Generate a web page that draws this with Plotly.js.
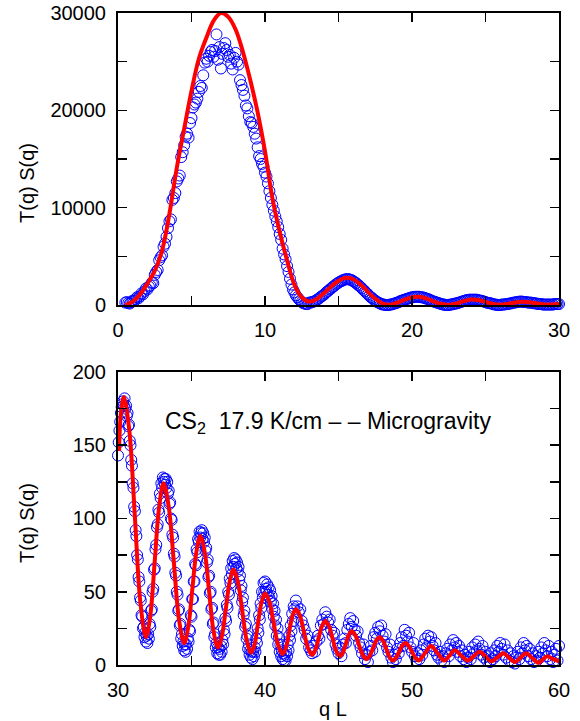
<!DOCTYPE html>
<html>
<head>
<meta charset="utf-8">
<script src="https://cdn.plot.ly/plotly-3.0.1.min.js"></script>
<style>html,body{margin:0;padding:0;background:#fff;}#chart{width:580px;height:721px;}</style>
</head>
<body>
<div id="chart"></div>
<script>
// ---------- Top panel: measured data (q L, T(q)S(q)) ----------
const topX = [
0.5,0.6,0.7,0.8,0.9,1.0,
1.1,1.2,1.3,1.4,1.5,1.6,1.7,1.8,1.9,2.0,
2.1,2.2,2.3,2.4,2.5,2.6,2.7,2.8,2.9,3.0,
3.1,3.2,3.3,3.4,3.5,3.6,3.7,3.8,3.9,4.0,
4.1,4.2,4.3,4.4,4.5,4.6,4.7,4.8,4.9,5.0,
5.1,5.2,5.3,5.4,5.5,5.6,5.7,5.8,5.9,6.0,
6.1,6.2,6.3,6.4,6.5,6.6,6.7,6.8,6.9,7.0,
7.1,7.2,7.3,7.4,7.5,7.6,7.7,7.8,7.9,8.0,
8.1,8.2,8.3,8.4,8.5,8.6,8.7,8.8,8.9,9.0,
9.1,9.2,9.3,9.4,9.5,9.6,9.7,9.8,9.9,10.0,
10.1,10.2,10.3,10.4,10.5,10.6,10.7,10.8,10.9,11.0,
11.1,11.2,11.3,11.4,11.5,11.6,11.7,11.8,11.9,12.0,
12.1,12.2,12.3,12.4,12.5,12.6,12.7,12.8,12.9,13.0,
13.1,13.2,13.3,13.4,13.5,13.6,13.7,13.8,13.9,14.0,
14.1,14.2,14.3,14.4,14.5,14.6,14.7,14.8,14.9,15.0,
15.1,15.2,15.3,15.4,15.5,15.6,15.7,15.8,15.9,16.0,
16.1,16.2,16.3,16.4,16.5,16.6,16.7,16.8,16.9,17.0,
17.1,17.2,17.3,17.4,17.5,17.6,17.7,17.8,17.9,18.0,
18.1,18.2,18.3,18.4,18.5,18.6,18.7,18.8,18.9,19.0,
19.1,19.2,19.3,19.4,19.5,19.6,19.7,19.8,19.9,20.0,
20.1,20.2,20.3,20.4,20.5,20.6,20.7,20.8,20.9,21.0,
21.1,21.2,21.3,21.4,21.5,21.6,21.7,21.8,21.9,22.0,
22.1,22.2,22.3,22.4,22.5,22.6,22.7,22.8,22.9,23.0,
23.1,23.2,23.3,23.4,23.5,23.6,23.7,23.8,23.9,24.0,
24.1,24.2,24.3,24.4,24.5,24.6,24.7,24.8,24.9,25.0,
25.1,25.2,25.3,25.4,25.5,25.6,25.7,25.8,25.9,26.0,
26.1,26.2,26.3,26.4,26.5,26.6,26.7,26.8,26.9,27.0,
27.1,27.2,27.3,27.4,27.5,27.6,27.7,27.8,27.9,28.0,
28.1,28.2,28.3,28.4,28.5,28.6,28.7,28.8,28.9,29.0,
29.1,29.2,29.3,29.4,29.5,29.6,29.7,29.8,29.9,30.0
];
const topY = [
250,300,200,150,300,450,
400,600,800,700,900,1200,1100,1400,1700,1600,
1900,2000,2300,2250,3100,3400,3600,4600,4900,5100,
6000,6300,7000,7900,8600,8800,10800,11000,11500,12700,
13000,13300,15200,15700,16400,17300,17600,17200,18700,19200,
20300,20600,20800,21200,21900,22500,22300,23600,24900,25300,
25000,25600,26000,26200,25500,26100,27800,25200,26500,24300,
25800,26400,26900,26200,25500,25700,24800,24200,25400,25900,
25000,24700,23100,22600,22100,21500,20500,20200,19400,18800,
18700,18300,17600,17100,16200,15300,15000,14500,14200,13600,
13200,12500,11700,11000,10300,9700,9100,8600,8000,7300,
6700,5800,5200,4700,4000,3400,2700,2100,1600,1300,
1000,800,600,450,300,200,150,100,100,250,
250,300,350,400,500,600,700,850,950,1050,
1200,1350,1450,1600,1700,1850,1950,2100,2200,2300,
2400,2450,2550,2600,2650,2650,2650,2600,2550,2450,
2350,2250,2100,2000,1850,1700,1550,1400,1250,1100,
950,800,700,550,450,350,250,200,100,50,
50,0,0,0,50,50,100,150,200,250,
300,400,450,500,550,600,650,700,750,800,
800,850,850,850,850,800,800,750,700,650,
600,550,450,400,350,300,250,200,150,100,
50,50,0,0,0,50,50,100,150,150,
200,250,300,350,400,450,500,500,550,550,
550,550,550,550,500,450,450,400,350,300,
250,200,200,150,100,50,50,0,0,0,
50,50,50,100,100,150,150,200,250,250,
300,300,350,350,350,300,300,300,250,250,
250,200,200,150,150,100,100,100,50,50,
50,50,50,50,50,50,100,100,100,100
];
// ---------- Top panel: fitted curve ----------
const topFitX = [0.5,1.0,1.5,2.0,2.5,3.0,3.5,4.0,4.5,5.0,5.5,6.0,6.5,7.0,7.5,8.0,8.5,9.0,9.5,10.0,
10.5,11.0,11.5,12.0,12.5,13.0,13.5,14.0,14.5,15.0,15.5,16.0,16.5,17.0,17.5,18.0,18.5,19.0,19.5,20.0,
20.5,21.0,21.5,22.0,22.5,23.0,23.5,24.0,24.5,25.0,25.5,26.0,26.5,27.0,27.5,28.0,28.5,29.0,29.5,30.0];
const topFitY = [0,350,1100,2200,3500,5600,9400,14100,18100,22000,25300,27400,29200,30000,29600,28300,26000,23100,19800,15800,
11000,7500,4600,2100,800,350,600,1200,1900,2500,2800,2650,2100,1350,650,150,20,250,550,800,
850,650,350,100,10,150,400,570,520,320,100,20,100,270,340,280,150,60,50,100];

// ---------- Bottom panel: measured data ----------
const botX = [
30.00,30.05,30.10,30.15,30.20,30.25,30.30,30.35,30.40,30.45,30.50,30.55,30.60,30.65,30.70,30.75,30.80,30.85,30.90,30.95,
31.00,31.05,31.10,31.15,31.20,31.25,31.30,31.35,31.40,31.45,31.50,31.55,31.60,31.65,31.70,31.75,31.80,31.85,31.90,31.95,
32.00,32.05,32.10,32.15,32.20,32.25,32.30,32.35,32.40,32.45,32.50,32.55,32.60,32.65,32.70,32.75,32.80,32.85,32.90,32.95,
33.00,33.05,33.10,33.15,33.20,33.25,33.30,33.35,33.40,33.45,33.50,33.55,33.60,33.65,33.70,33.75,33.80,33.85,33.90,33.95,
34.00,34.05,34.10,34.15,34.20,34.25,34.30,34.35,34.40,34.45,34.50,34.55,34.60,34.65,34.70,34.75,34.80,34.85,34.90,34.95,
35.00,35.05,35.10,35.15,35.20,35.25,35.30,35.35,35.40,35.45,35.50,35.55,35.60,35.65,35.70,35.75,35.80,35.85,35.90,35.95,
36.00,36.05,36.10,36.15,36.20,36.25,36.30,36.35,36.40,36.45,36.50,36.55,36.60,36.65,36.70,36.75,36.80,36.85,36.90,36.95,
37.00,37.05,37.10,37.15,37.20,37.25,37.30,37.35,37.40,37.45,37.50,37.55,37.60,37.65,37.70,37.75,37.80,37.85,37.90,37.95,
38.00,38.05,38.10,38.15,38.20,38.25,38.30,38.35,38.40,38.45,38.50,38.55,38.60,38.65,38.70,38.75,38.80,38.85,38.90,38.95,
39.00,39.05,39.10,39.15,39.20,39.25,39.30,39.35,39.40,39.45,39.50,39.55,39.60,39.65,39.70,39.75,39.80,39.85,39.90,39.95,
40.00,40.05,40.10,40.15,40.20,40.25,40.30,40.35,40.40,40.45,40.50,40.55,40.60,40.65,40.70,40.75,40.80,40.85,40.90,40.95,
41.00,41.05,41.10,41.15,41.20,41.25,41.30,41.35,41.40,41.45,41.50,41.55,41.60,41.65,41.70,41.75,41.80,41.85,41.90,41.95,
42.0,42.1,42.2,42.3,42.4,42.5,42.6,42.7,42.8,42.9,
43.0,43.1,43.2,43.3,43.4,43.5,43.6,43.7,43.8,43.9,
44.0,44.1,44.2,44.3,44.4,44.5,44.6,44.7,44.8,44.9,
45.0,45.1,45.2,45.3,45.4,45.5,45.6,45.7,45.8,45.9,
46.0,46.1,46.2,46.3,46.4,46.5,46.6,46.7,46.8,46.9,
47.0,47.1,47.2,47.3,47.4,47.5,47.6,47.7,47.8,47.9,
48.0,48.1,48.2,48.3,48.4,48.5,48.6,48.7,48.8,48.9,
49.0,49.1,49.2,49.3,49.4,49.5,49.6,49.7,49.8,49.9,
50.0,50.1,50.2,50.3,50.4,50.5,50.6,50.7,50.8,50.9,
51.0,51.1,51.2,51.3,51.4,51.5,51.6,51.7,51.8,51.9,
52.0,52.1,52.2,52.3,52.4,52.5,52.6,52.7,52.8,52.9,
53.0,53.1,53.2,53.3,53.4,53.5,53.6,53.7,53.8,53.9,
54.0,54.1,54.2,54.3,54.4,54.5,54.6,54.7,54.8,54.9,
55.0,55.1,55.2,55.3,55.4,55.5,55.6,55.7,55.8,55.9,
56.0,56.1,56.2,56.3,56.4,56.5,56.6,56.7,56.8,56.9,
57.0,57.1,57.2,57.3,57.4,57.5,57.6,57.7,57.8,57.9,
58.0,58.1,58.2,58.3,58.4,58.5,58.6,58.7,58.8,58.9,
59.0,59.1,59.2,59.3,59.4,59.5,59.6,59.7,59.8,59.9,
60.0
];
const botY = [
143,152,160,166,172,176,178,180,177,182,175,177,170,172,163,164,153,150,140,136,
124,121,108,105,92,88,75,72,60,57,46,44,34,33,25,26,19,22,16,20,
15,21,18,28,26,37,38,50,52,65,66,79,82,94,96,106,104,117,114,124,
121,128,125,127,123,127,121,125,117,119,110,111,100,99,89,87,76,74,63,61,
50,48,37,38,27,28,18,21,13,16,10,14,9,14,11,18,16,24,23,34,
33,45,45,57,57,69,68,79,77,86,84,91,87,90,92,86,90,84,87,78,
80,70,72,60,61,49,50,38,39,28,29,19,21,12,15,8,12,7,11,7,
13,9,17,14,24,21,32,30,41,39,50,48,59,56,66,62,71,67,73,69,
72,66,70,64,67,58,61,51,54,43,46,34,37,26,28,18,20,11,14,7,
10,5,9,4,9,6,12,9,18,15,25,22,34,31,42,39,50,46,56,50,
57,52,50,55,48,53,46,51,43,47,38,42,33,37,27,31,20,25,14,19,
9,14,6,10,4,8,3,7,3,9,6,14,10,20,17,27,23,35,30,40,
38,44,40,36,38,30,27,24,18,20,
12,10,8,13,9,16,20,18,27,31,
28,36,33,29,31,24,20,22,14,11,
8,12,6,14,18,15,24,28,32,26,
30,24,20,23,15,12,8,14,4,7,
2,9,13,10,19,22,18,26,23,27,
20,16,21,12,9,14,5,2,7,4,
11,8,15,19,13,24,20,16,22,12,
9,15,6,3,8,4,10,7,14,18,
12,20,16,19,13,10,15,7,5,9,
3,6,2,8,11,6,14,10,17,12,
15,9,13,6,10,4,7,2,5,9,
4,12,8,14,10,16,11,7,13,5,
9,3,6,2,8,4,10,6,13,9,
15,11,7,14,5,10,3,8,2,6,
1,5,9,4,12,8,15,10,13,6,
11,4,8,2,6,3,9,5,12,8,
15,10,6,13,4,9,2,7,11,3,
13
];
// ---------- Bottom panel: fitted curve ----------
const botFitX = [30.07,30.2,30.4,30.77,31.15,31.52,31.9,32.2,32.5,32.8,33.1,33.45,33.8,34.15,34.5,34.78,35.05,35.33,35.6,35.9,
36.2,36.5,36.8,37.07,37.33,37.6,37.85,38.15,38.45,38.75,39.05,39.29,39.53,39.77,40.0,40.3,40.6,40.9,41.2,41.43,
41.65,41.88,42.1,42.38,42.65,42.93,43.2,43.43,43.65,43.88,44.1,44.35,44.6,44.85,45.1,45.3,45.5,45.7,45.9,46.15,
46.4,46.65,46.9,47.12,47.35,47.57,47.8,48.02,48.25,48.47,48.7,48.9,49.12,49.33,49.55,49.78,50.0,50.22,50.45,50.88,
51.3,51.75,52.2,52.55,52.9,53.35,53.8,54.2,54.6,55.0,55.4,55.8,56.2,56.6,57.0,57.38,57.75,58.18,58.6,58.9,
59.2,59.6,60.0];
const botFitY = [146,172,183,160,101,43,19,34,71,108,124,108,70,31,15,26,51,77,88,77,
50,23,12,20,38,57,65,57,37,17,8.5,14,29,43,49,43,28,13.5,7.5,12,
23,34,38,33.5,22.5,11.5,7,10.4,18.5,26.6,30,26.5,18,9.5,6,8.5,14.5,20.5,23,20.2,
13.5,6.8,4,6.2,11.5,16.8,19,16.7,11,5.3,3,4.8,9,13.2,15,13,9,5,3,8,
13,8,3,6.5,10,6.5,3,6,9,5.8,2.5,5.2,8,5,2,5,8,4.8,1.5,3.8,
6,4,2.5];

const blue = '#0000ff';
const red = '#ff0000';

const dataTraces = [
  {x: topX, y: topY, xaxis:'x', yaxis:'y', type:'scatter', mode:'markers', cliponaxis:false,
   marker:{symbol:'circle-open', size:11, color:blue, line:{width:1, color:blue}}, hoverinfo:'skip'},
  {x: topFitX, y: topFitY, xaxis:'x', yaxis:'y', type:'scatter', mode:'lines', cliponaxis:false,
   line:{color:red, width:4, shape:'spline', smoothing:1}, hoverinfo:'skip'},
  {x: botX, y: botY, xaxis:'x2', yaxis:'y2', type:'scatter', mode:'markers', cliponaxis:false,
   marker:{symbol:'circle-open', size:11, color:blue, line:{width:1, color:blue}}, hoverinfo:'skip'},
  {x: botFitX, y: botFitY, xaxis:'x2', yaxis:'y2', type:'scatter', mode:'lines', cliponaxis:false,
   line:{color:red, width:4, shape:'spline', smoothing:1}, hoverinfo:'skip'}
];

const FONT = 'Liberation Sans, Arial, Helvetica, sans-serif';
function axisBase(extra){
  return Object.assign({
    showline:true, linewidth:2, linecolor:'black', mirror:'ticks',
    ticks:'inside', ticklen:9, tickwidth:1.5, tickcolor:'black',
    showgrid:false, zeroline:false, ticklabelstandoff:6,
    tickformat:'d', separatethousands:false,
    tickfont:{family:FONT, size:20, color:'black'}
  }, extra);
}

const layout = {
  width:580, height:721,
  margin:{l:118, r:21, t:13, b:56},
  paper_bgcolor:'#ffffff', plot_bgcolor:'#ffffff',
  showlegend:false,
  font:{family:FONT, size:20, color:'black'},
  xaxis: axisBase({domain:[0,1], anchor:'y', range:[0,30], tick0:0, dtick:10,
    minor:{dtick:5, ticks:'inside', ticklen:9, tickwidth:1.5, tickcolor:'black', showgrid:false}}),
  yaxis: axisBase({domain:[0.5521,1], anchor:'x', range:[0,30000], tick0:0, dtick:10000,
    minor:{dtick:5000, ticks:'inside', ticklen:9, tickwidth:1.5, tickcolor:'black', showgrid:false}}),
  xaxis2: axisBase({domain:[0,1], anchor:'y2', range:[30,60], tick0:30, dtick:10,
    minor:{dtick:5, ticks:'inside', ticklen:9, tickwidth:1.5, tickcolor:'black', showgrid:false}}),
  yaxis2: axisBase({domain:[0,0.4494], anchor:'x2', range:[0,200], tick0:0, dtick:50,
    minor:{dtick:25, ticks:'inside', ticklen:9, tickwidth:1.5, tickcolor:'black', showgrid:false}}),
  annotations:[
    {text:'T(q) S(q)', xref:'paper', yref:'paper', x:-0.2063, y:0.7393, xanchor:'center', yanchor:'middle',
     textangle:-90, showarrow:false, font:{family:FONT, size:20, color:'black'}},
    {text:'T(q) S(q)', xref:'paper', yref:'paper', x:-0.2063, y:0.2178, xanchor:'center', yanchor:'middle',
     textangle:-90, showarrow:false, font:{family:FONT, size:20, color:'black'}},
    {text:'q L', xref:'paper', yref:'paper', x:0.4864, y:-0.0675, xanchor:'center', yanchor:'middle',
     showarrow:false, font:{family:FONT, size:20, color:'black'}},
    {text:'CS<sub>2</sub>\u00a0 17.9 K/cm \u2013 \u2013 Microgravity', xref:'paper', yref:'paper', x:0.102, y:0.3712,
     xanchor:'left', yanchor:'middle', showarrow:false, font:{family:FONT, size:23, color:'black'}}
  ]
};

Plotly.newPlot('chart', dataTraces, layout, {displayModeBar:false, staticPlot:true});
</script>
</body>
</html>
